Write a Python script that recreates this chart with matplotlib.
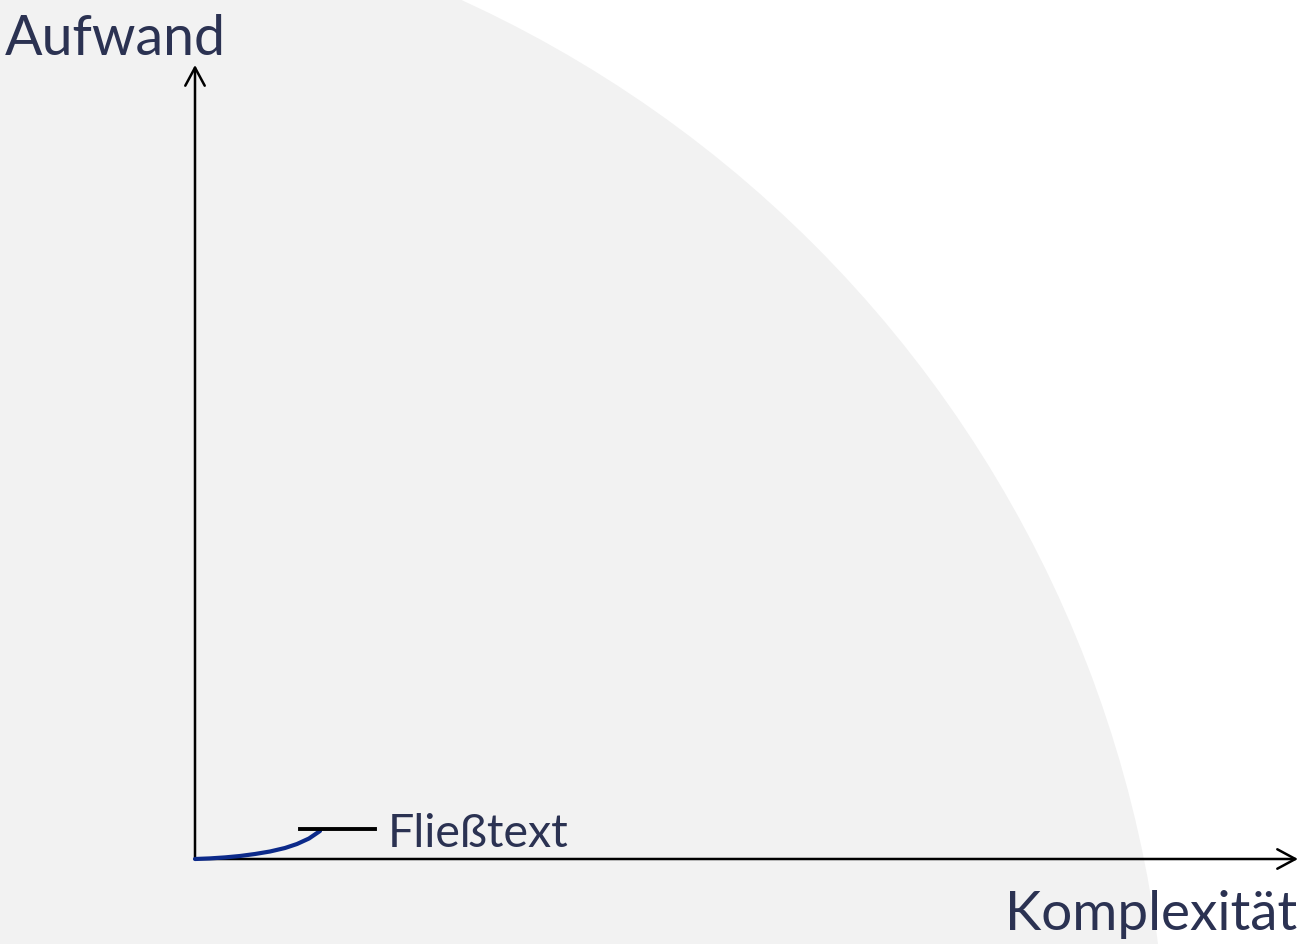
"""Schematic: Aufwand vs. Komplexität with a single labelled curve."""

import matplotlib
matplotlib.use("Agg")
import matplotlib.pyplot as plt
from matplotlib.patches import Circle, FancyArrowPatch

# Curve (units: complexity / effort, 1 unit ~ 100 px)
complexity = [0.0, 0.15, 0.30, 0.45, 0.60, 0.75, 0.90, 1.02, 1.14, 1.25]
effort = [0.0, 0.006, 0.016, 0.03, 0.05, 0.075, 0.11, 0.15, 0.205, 0.28]
curve_label = "Fließtext"
leader_x = [1.05, 1.80]
leader_y = [0.30, 0.30]

x_label = "Komplexität"
y_label = "Aufwand"

TEXT_COLOR = "#2b3252"
CURVE_COLOR = "#0c2a8a"
BG_COLOR = "#f2f2f2"

plt.rcParams["font.family"] = ["Lato", "DejaVu Sans"]

fig = plt.figure(figsize=(12.99, 9.45), dpi=100)
ax = fig.add_axes([0, 0, 1, 1])
ax.set_xlim(-1.95, 11.04)
ax.set_ylim(-0.85, 8.60)
ax.axis("off")

# light grey quarter disc in the background
ax.add_patch(Circle((-2.35, -2.40), 12.08, facecolor=BG_COLOR,
                    edgecolor="none", zorder=0))

# axes with open arrow heads
style = "->,head_length=0.65,head_width=0.35"
for end in [(11.03, 0.0), (0.0, 7.94)]:
    ax.add_patch(FancyArrowPatch((0.0, 0.0), end, arrowstyle=style,
                                 mutation_scale=20, lw=1.8, color="black",
                                 shrinkA=0, shrinkB=0, zorder=2))

ax.plot(complexity, effort, color=CURVE_COLOR, lw=3.0,
        solid_capstyle="round", solid_joinstyle="round", zorder=3)
ax.plot(leader_x, leader_y, color="black", lw=2.8, zorder=3)
ax.text(1.93, 0.13, curve_label, fontsize=33.5, color=TEXT_COLOR,
        ha="left", va="baseline")

ax.text(-1.90, 8.05, y_label, fontsize=40, color=TEXT_COLOR,
        ha="left", va="baseline")
ax.text(11.02, -0.70, x_label, fontsize=39.5, color=TEXT_COLOR,
        ha="right", va="baseline")

fig.savefig("out.png", dpi=100, facecolor="white")
